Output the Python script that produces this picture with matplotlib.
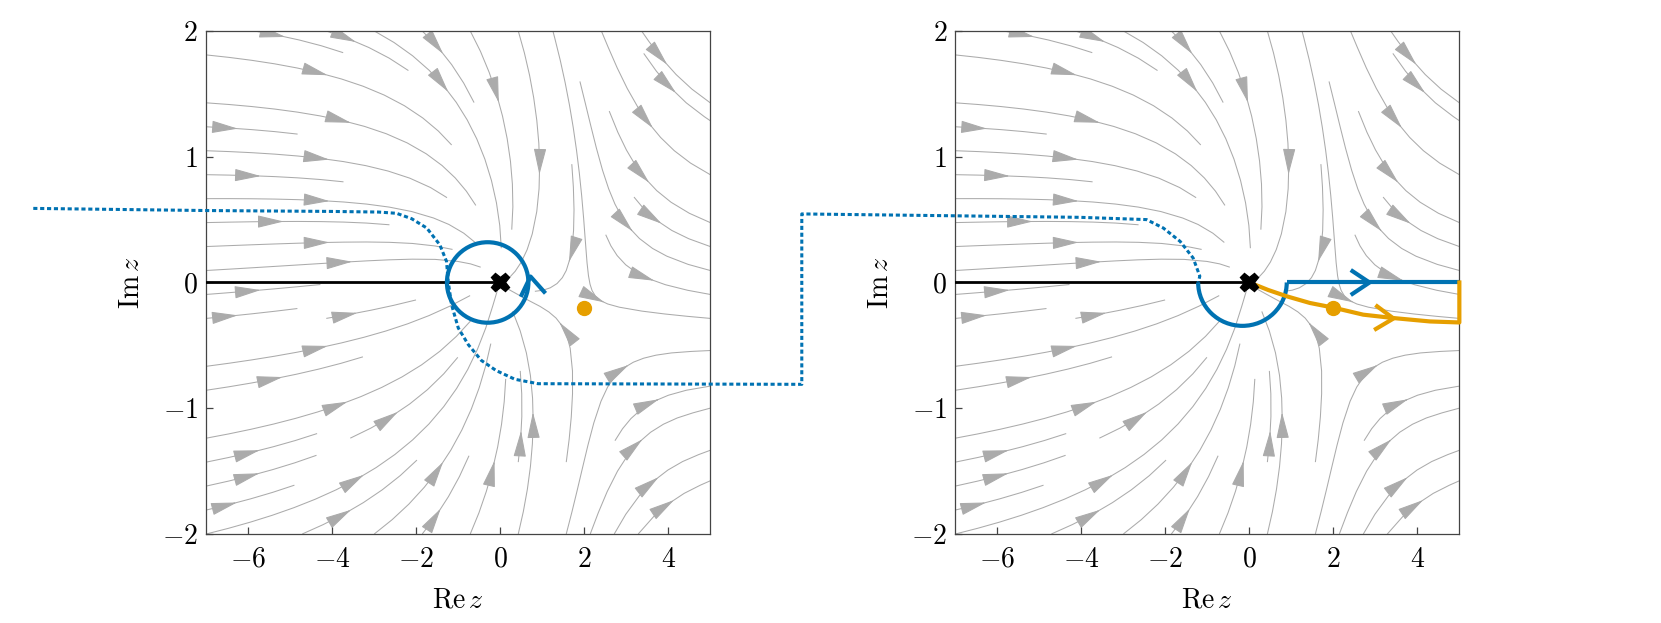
import numpy as np
import matplotlib
matplotlib.use("Agg")
import matplotlib.pyplot as plt
from matplotlib.lines import Line2D
from matplotlib.markers import MarkerStyle
from matplotlib.patches import Arc
from matplotlib.path import Path
from matplotlib.transforms import Affine2D
from matplotlib.ticker import FuncFormatter

plt.rcParams["mathtext.fontset"] = "cm"
plt.rcParams["font.family"] = "serif"
plt.rcParams["font.serif"] = ["cmr10", "DejaVu Serif"]
plt.rcParams["axes.formatter.use_mathtext"] = True

BLUE = "#0072B2"
ORANGE = "#E69F00"
GREY = "#ABABAB"
SPINE = "#444444"

# axes ranges and ticks
X_LIM = (-7, 5)
Y_LIM = (-2, 2)
X_TICKS = [-6, -4, -2, 0, 2, 4]
Y_TICKS = [-2, -1, 0, 1, 2]

# pole, saddle point, branch cut
POLE = (0.0, 0.0)
SADDLE = (2.0, -0.2)
CUT_X = [-7.0, 0.0]
CUT_Y = [0.0, 0.0]

# left panel: loop round the pole
LOOP_CENTER = (-0.30, 0.0)
LOOP_W, LOOP_H = 1.94, 0.64
LOOP_ARROW = (0.70, 0.05)

# right panel: half loop + ray along the real axis, and the saddle path
HALF_CENTER = (-0.165, 0.0)
HALF_W, HALF_H = 2.11, 0.69
RAY_X = [0.89, 5.0]
RAY_Y = [0.0, 0.0]
RAY_ARROW = (2.85, 0.0)
SADDLE_X = [0.0, 0.45, 0.89, 1.44, 2.0, 2.71, 3.43, 4.3, 5.0, 5.0]
SADDLE_Y = [0.0, -0.06, -0.11, -0.163, -0.2, -0.256, -0.283, -0.31, -0.318, 0.0]
SADDLE_ARROW = (3.43, -0.283)

# dotted path, left part in left-panel data, right part in right-panel data
DOT_L_X = [-11.12, -7.0, -4.05, -2.9, -2.47, -2.11, -1.75, -1.44, -1.28, -1.24,
           -1.16, -1.0, -0.76, -0.45, -0.1, 0.35, 0.9, 7.18]
DOT_L_Y = [0.589, 0.572, 0.565, 0.56, 0.55, 0.507, 0.433, 0.30, 0.168, 0.01,
           -0.177, -0.362, -0.495, -0.62, -0.70, -0.77, -0.805, -0.81]
DOT_R_X = [-10.65, -4.03, -2.45, -2.05, -1.65, -1.34, -1.18, -1.22]
DOT_R_Y = [0.545, 0.518, 0.50, 0.433, 0.327, 0.195, 0.05, 0.0]

# chevron marker
CHEVRON = Path([(-1.5, 1.0), (0.0, 0.0), (-1.5, -1.0)],
               [Path.MOVETO, Path.LINETO, Path.LINETO])


def chevron(ax, pos, color, angle):
    m = MarkerStyle(CHEVRON, transform=Affine2D().rotate_deg(angle))
    ax.plot(pos[0], pos[1], marker=m, ms=27, mfc="none", mec=color, mew=3,
            zorder=6, clip_on=False)


def field():
    x = np.linspace(X_LIM[0], X_LIM[1], 200)
    y = np.linspace(Y_LIM[0], Y_LIM[1], 100)
    X, Y = np.meshgrid(x, y)
    z = (X - POLE[0]) + 1j * (Y - POLE[1])
    c = complex(SADDLE[0], SADDLE[1])
    w = np.conj(1 - c / z)
    return x, y, w.real, w.imag


def base(ax):
    x, y, u, v = field()
    ax.streamplot(x, y, u, v, density=0.75, color=GREY, linewidth=0.75,
                  arrowsize=3.3, arrowstyle="-|>,head_length=0.5,head_width=0.12",
                  minlength=0.15, zorder=1)
    ax.plot(CUT_X, CUT_Y, color="k", lw=2, zorder=3)
    ax.set_xlim(*X_LIM)
    ax.set_ylim(*Y_LIM)
    ax.set_xticks(X_TICKS)
    ax.set_yticks(Y_TICKS)
    fmt = FuncFormatter(lambda val, pos: rf"${val:g}$")
    ax.xaxis.set_major_formatter(fmt)
    ax.yaxis.set_major_formatter(fmt)
    ax.tick_params(direction="in", length=5, width=0.9, color=SPINE, labelsize=20)
    ax.tick_params(axis="x", pad=9)
    ax.tick_params(axis="y", pad=6)
    for s in ax.spines.values():
        s.set_color(SPINE)
        s.set_linewidth(0.9)
    ax.set_xlabel(r"$\mathrm{Re}\,z$", fontsize=20, labelpad=10)
    ax.set_ylabel(r"$\mathrm{Im}\,z$", fontsize=20, labelpad=12)


fig = plt.figure(figsize=(16.61, 6.23), dpi=100)
ax1 = fig.add_axes([0.1242, 0.1429, 0.3034, 0.8074])
ax2 = fig.add_axes([0.5752, 0.1429, 0.3034, 0.8074])

# left panel
base(ax1)
ax1.add_patch(Arc(LOOP_CENTER, LOOP_W, LOOP_H, color=BLUE, lw=3, zorder=4))
chevron(ax1, LOOP_ARROW, BLUE, 98)
ax1.plot(*SADDLE, "o", color=ORANGE, ms=10, zorder=6)
ax1.plot(*POLE, "X", color="k", ms=13, zorder=7)

# right panel
base(ax2)
ax2.add_patch(Arc(HALF_CENTER, HALF_W, HALF_H, theta1=180, theta2=360,
                  color=BLUE, lw=3, zorder=4))
ax2.plot(RAY_X, RAY_Y, color=BLUE, lw=3, zorder=4, solid_capstyle="butt")
chevron(ax2, RAY_ARROW, BLUE, 0)
ax2.plot(SADDLE_X, SADDLE_Y, color=ORANGE, lw=3, zorder=5, clip_on=False)
chevron(ax2, SADDLE_ARROW, ORANGE, -3)
ax2.plot(*SADDLE, "o", color=ORANGE, ms=10, zorder=6)
ax2.plot(*POLE, "X", color="k", ms=13, zorder=7)

# dotted path crossing from one panel to the other
left = ax1.transData.transform(np.column_stack([DOT_L_X, DOT_L_Y]))
right = ax2.transData.transform(np.column_stack([DOT_R_X, DOT_R_Y]))
corner = np.array([[left[-1, 0], right[0, 1]]])
pts = fig.transFigure.inverted().transform(np.vstack([left, corner, right]))
fig.add_artist(Line2D(pts[:, 0], pts[:, 1], transform=fig.transFigure,
                      color=BLUE, lw=2.2, dashes=(1.35, 0.9), zorder=5))

fig.savefig("out.png", dpi=100)
